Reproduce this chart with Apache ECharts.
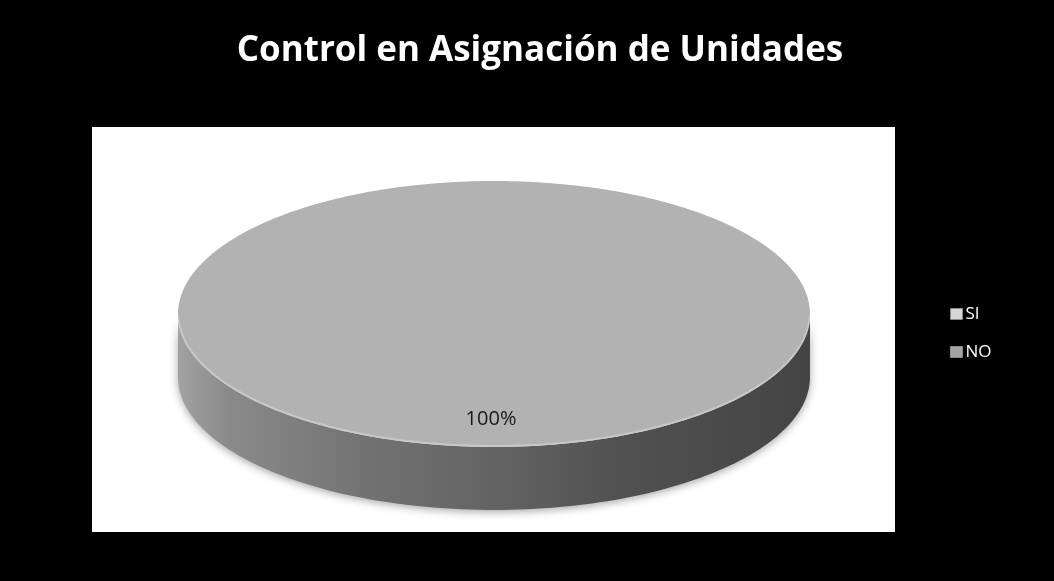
<!DOCTYPE html>
<html>
<head>
<meta charset="utf-8">
<style>
  html, body { margin: 0; padding: 0; background: #000; }
  #chart { width: 1054px; height: 581px; }
</style>
<script src="https://cdn.jsdelivr.net/npm/echarts@6/dist/echarts.min.js"></script>
</head>
<body>
<div id="chart"></div>
<script>
// Chart data
const titleText = 'Control en Asignación de Unidades';
const categories = ['SI', 'NO'];
const values = [100, 0];
const sliceColors = ['#b2b2b2', '#8c8c8c'];
const legendColors = ['#d6d6d6', '#a4a4a4'];

const chart = echarts.init(document.getElementById('chart'), null, { renderer: 'canvas' });

// Geometry of the tilted disc
const disc = { cx: 494, cy: 314, rx: 316, ry: 133, depth: 63 };
const total = values.reduce((a, b) => a + b, 0);

function arcPoints(a0, a1, dy, steps) {
  const pts = [];
  for (let k = 0; k <= steps; k++) {
    const a = a0 + (a1 - a0) * k / steps;
    pts.push([disc.cx + disc.rx * Math.cos(a), disc.cy + dy + disc.ry * Math.sin(a)]);
  }
  return pts;
}

function sideGradient() {
  return new echarts.graphic.LinearGradient(0, 0, 1, 0, [
    { offset: 0, color: '#a2a2a2' },
    { offset: 0.08, color: '#8a8a8a' },
    { offset: 0.32, color: '#707070' },
    { offset: 0.51, color: '#636363' },
    { offset: 0.7, color: '#515151' },
    { offset: 1, color: '#444444' }
  ]);
}

function makeRenderer(idx) {
  return function (params, api) {
    const v = api.value(0);
    if (!total || !v) return { type: 'group', children: [] };
    const before = values.slice(0, idx).reduce((a, b) => a + b, 0);
    const start = -Math.PI / 2 + 2 * Math.PI * before / total;
    const end = start + 2 * Math.PI * v / total;
    const full = v >= total;
    const children = [];

    // front wall: parts of the slice facing the viewer (sin >= 0)
    const steps = 240;
    let run = [];
    const runs = [];
    for (let k = 0; k <= steps; k++) {
      const a = start + (end - start) * k / steps;
      if (Math.sin(a) >= -1e-9) run.push(a);
      else if (run.length) { runs.push(run); run = []; }
    }
    if (run.length) runs.push(run);
    runs.forEach(r => {
      if (r.length < 2) return;
      const a0 = r[0], a1 = r[r.length - 1];
      const topEdge = arcPoints(a0, a1, 0, 120);
      const botEdge = arcPoints(a1, a0, disc.depth, 120);
      children.push({
        type: 'polygon',
        shape: { points: topEdge.concat(botEdge) },
        style: {
          fill: sideGradient(),
          shadowBlur: 8,
          shadowColor: 'rgba(0,0,0,0.35)',
          shadowOffsetY: 2
        }
      });
    });

    // top face
    let topPts = arcPoints(start, end, 0, 360);
    if (!full) topPts = [[disc.cx, disc.cy]].concat(topPts);
    children.push({
      type: 'polygon',
      shape: { points: topPts },
      style: { fill: api.visual('color') }
    });
    // light rim along the front edge
    children.push({
      type: 'polyline',
      shape: { points: arcPoints(0.02, Math.PI - 0.02, -1, 120) },
      style: { stroke: 'rgba(255,255,255,0.28)', lineWidth: 2, fill: null }
    });

    // percentage label
    const mid = (start + end) / 2;
    const pct = Math.round(v / total * 100) + '%';
    children.push({
      type: 'text',
      x: disc.cx - 3 + disc.rx * 0.78 * Math.cos(mid),
      y: disc.cy + 2 + disc.ry * 0.78 * Math.sin(mid),
      style: {
        text: pct,
        fill: '#1a1a1a',
        font: '20px "Open Sans", sans-serif',
        align: 'center',
        verticalAlign: 'middle'
      }
    });
    return { type: 'group', children };
  };
}

const option = {
  backgroundColor: '#000000',
  animation: false,
  title: {
    text: titleText,
    left: 535,
    textAlign: 'center',
    top: 29,
    textStyle: { color: '#ffffff', fontSize: 35, fontWeight: 'bold', fontFamily: 'Open Sans' }
  },
  graphic: [{
    type: 'rect',
    z: -1,
    shape: { x: 92, y: 127, width: 803, height: 405 },
    style: { fill: '#ffffff' }
  }],
  legend: {
    orient: 'vertical',
    left: 945,
    top: 299,
    itemWidth: 12,
    itemHeight: 11,
    itemGap: 18,
    icon: 'rect',
    textStyle: { color: '#ffffff', fontSize: 17, fontFamily: 'Open Sans', padding: [0, 0, 0, -2], lineHeight: 20 },
    data: categories.map((c, i) => ({
      name: c,
      itemStyle: { color: legendColors[i], borderColor: '#8a8a8a', borderWidth: 1 }
    }))
  },
  series: categories.map((c, i) => ({
    type: 'custom',
    name: c,
    coordinateSystem: 'none',
    itemStyle: { color: sliceColors[i] },
    data: [[values[i]]],
    renderItem: makeRenderer(i)
  }))
};

chart.setOption(option);
</script>
</body>
</html>
